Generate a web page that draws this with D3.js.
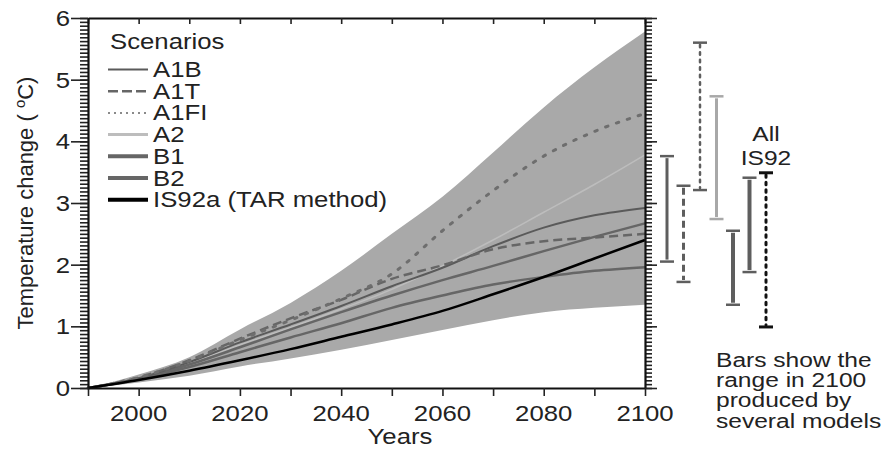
<!DOCTYPE html>
<html><head><meta charset="utf-8">
<script src="https://cdn.jsdelivr.net/npm/d3@7"></script>
<style>
html,body{margin:0;padding:0;background:#fff;}
svg{display:block;font-family:"Liberation Sans",Arial,Helvetica,sans-serif;}
</style></head>
<body>
<svg id="chart" width="895" height="449"></svg>
<script>
// ---------- data ----------
const years     = [1990, 2000, 2010, 2020, 2030, 2040, 2050, 2060, 2070, 2080, 2090, 2100];
const bandUpper = [0, 0.22, 0.50, 0.95, 1.38, 1.90, 2.50, 3.10, 3.82, 4.55, 5.20, 5.78];
const bandLower = [0, 0.09, 0.20, 0.35, 0.48, 0.62, 0.78, 0.94, 1.10, 1.23, 1.30, 1.35];
const a1b  = [0, 0.16, 0.42, 0.74, 1.03, 1.33, 1.65, 1.95, 2.30, 2.60, 2.80, 2.92];
const a1t  = [0, 0.17, 0.45, 0.80, 1.13, 1.43, 1.77, 1.99, 2.25, 2.38, 2.44, 2.50];
const a1fi = [0, 0.17, 0.44, 0.78, 1.10, 1.45, 1.85, 2.55, 3.20, 3.76, 4.16, 4.45];
const a2   = [0, 0.15, 0.40, 0.70, 0.98, 1.28, 1.60, 1.98, 2.40, 2.85, 3.30, 3.78];
const b1   = [0, 0.14, 0.34, 0.58, 0.82, 1.05, 1.30, 1.50, 1.68, 1.80, 1.90, 1.96];
const b2   = [0, 0.15, 0.38, 0.66, 0.95, 1.23, 1.50, 1.75, 1.98, 2.22, 2.45, 2.67];
const is92a= [0, 0.13, 0.28, 0.45, 0.63, 0.83, 1.03, 1.25, 1.52, 1.80, 2.10, 2.40];

const legendNames = ["A1B", "A1T", "A1FI", "A2", "B1", "B2", "IS92a (TAR method)"];

const barNames = ["A1B", "A1T", "A1FI", "A2", "B1", "B2", "IS92"];
const barLow   = [2.05, 1.72, 3.21, 2.74, 1.35, 1.88, 0.99];
const barHigh  = [3.76, 3.28, 5.60, 4.73, 2.55, 3.41, 3.49];

const xTickLabels = [2000, 2020, 2040, 2060, 2080, 2100];
const yTickLabels = [0, 1, 2, 3, 4, 5, 6];
const noteLines = ["Bars show the", "range in 2100", "produced by", "several models"];
const barTitle = ["All", "IS92"];

// ---------- styles ----------
const SX = 1.17; // horizontal stretch of text in the reference
const styles = {
  "A1B":  {color:"#5a5a5a", width:2,   dash:null,   lw:2,   ldash:null},
  "A1T":  {color:"#666",    width:2.5, dash:"9,5",  lw:2.5, ldash:"10,4"},
  "A1FI": {color:"#6e6e6e", width:3,   dash:"2.5,9",lw:2,   ldash:"2,4"},
  "A2":   {color:"#bdbdbd", width:1.5, dash:null,   lw:3,   ldash:null},
  "B1":   {color:"#666",    width:2.5, dash:null,   lw:4,   ldash:null},
  "B2":   {color:"#666",    width:2.5, dash:null,   lw:4,   ldash:null},
  "IS92a (TAR method)": {color:"#000", width:2.5, dash:null, lw:4, ldash:null}
};
const barStyles = {
  "A1B":  {color:"#5e5e5e", width:3,   dash:null},
  "A1T":  {color:"#5e5e5e", width:3,   dash:"7,4"},
  "A1FI": {color:"#5e5e5e", width:2.5, dash:"2.5,5"},
  "A2":   {color:"#a8a8a8", width:3,   dash:null},
  "B1":   {color:"#5e5e5e", width:4,   dash:null},
  "B2":   {color:"#5e5e5e", width:4,   dash:null},
  "IS92": {color:"#111",    width:3,   dash:"2.5,5"}
};

// ---------- scales ----------
const svg = d3.select("#chart");
const x = d3.scaleLinear().domain([1990, 2100]).range([88, 645]);
const y = d3.scaleLinear().domain([0, 6]).range([388, 18]);
const xb = d3.scalePoint().domain(barNames).range([667, 766]);

function stext(g, tx, ty, str, size, anchor, color) {
  return g.append("text")
    .attr("transform", `translate(${tx},${ty}) scale(${SX},1)`)
    .attr("text-anchor", anchor || "start")
    .attr("font-size", size)
    .attr("fill", color || "#222")
    .text(str);
}
function mtext(g, tx, ty, lines, size, anchor, lh) {
  const t = g.append("text")
    .attr("transform", `translate(${tx},${ty}) scale(${SX},1)`)
    .attr("text-anchor", anchor || "start")
    .attr("font-size", size)
    .attr("fill", "#222");
  lines.forEach((s, i) => t.append("tspan").attr("x", 0).attr("y", i * lh).text(s));
  return t;
}

// ---------- band ----------
const bandData = years.map((yr, i) => ({yr, lo: bandLower[i], hi: bandUpper[i]}));
svg.append("path")
  .datum(bandData)
  .attr("fill", "#a9a9a9")
  .attr("d", d3.area().curve(d3.curveMonotoneX)
    .x(d => x(d.yr)).y0(d => y(d.lo)).y1(d => y(d.hi)));

// ---------- scenario lines ----------
const series = [
  ["A2", a2], ["B1", b1], ["B2", b2], ["A1B", a1b], ["A1T", a1t], ["A1FI", a1fi], ["IS92a (TAR method)", is92a]
];
const line = d3.line().curve(d3.curveMonotoneX).x(d => x(d[0])).y(d => y(d[1]));
series.forEach(([name, vals]) => {
  const s = styles[name];
  svg.append("path")
    .datum(years.map((yr, i) => [yr, vals[i]]))
    .attr("fill", "none")
    .attr("stroke", s.color)
    .attr("stroke-width", s.width)
    .attr("stroke-dasharray", s.dash)
    .attr("stroke-linecap", s.dash && s.dash.startsWith("2") ? "round" : "butt")
    .attr("d", line);
});

// ---------- axes ----------
function styleAxis(g, keepDomain) {
  g.selectAll(".tick line").attr("stroke", "#222").attr("stroke-width", 1.6);
  if (keepDomain) g.select(".domain").attr("stroke", "#111").attr("stroke-width", 2.2);
  else g.select(".domain").remove();
}
const decade = d3.range(1990, 2101, 10);
svg.append("g").attr("transform", "translate(0,388)")
  .call(d3.axisBottom(x).tickValues(decade).tickSize(8).tickSizeOuter(0).tickFormat(""))
  .call(g => styleAxis(g, true));
svg.append("g").attr("transform", "translate(0,18)")
  .call(d3.axisBottom(x).tickValues(decade).tickSize(6).tickSizeOuter(0).tickFormat(""))
  .call(g => styleAxis(g, true));
const minorVals = d3.range(0, 97).map(i => i / 16).filter(v => v <= 6);
svg.append("g").attr("transform", "translate(88,0)")
  .call(d3.axisLeft(y).tickValues(minorVals).tickSize(8).tickSizeOuter(0).tickFormat(""))
  .call(g => styleAxis(g, false));
svg.append("g").attr("transform", "translate(88,0)")
  .call(d3.axisLeft(y).tickValues(yTickLabels).tickSize(17).tickSizeOuter(0).tickFormat(""))
  .call(g => styleAxis(g, true));
svg.append("g").attr("transform", "translate(645,0)")
  .call(d3.axisRight(y).tickValues(minorVals).tickSize(7).tickSizeOuter(0).tickFormat(""))
  .call(g => styleAxis(g, false));
svg.append("g").attr("transform", "translate(645,0)")
  .call(d3.axisRight(y).tickValues(yTickLabels).tickSize(12).tickSizeOuter(0).tickFormat(""))
  .call(g => styleAxis(g, true));

// tick labels
xTickLabels.forEach(v => stext(svg, x(v), 421, String(v), 22, "middle"));
yTickLabels.forEach(v => stext(svg, 70, y(v) + 8, String(v), 22, "end"));

// axis titles
stext(svg, 400, 444, "Years", 22, "middle");
const yl = svg.append("text")
  .attr("transform", "translate(33,203) rotate(-90)")
  .attr("text-anchor", "middle")
  .attr("font-size", 22)
  .attr("fill", "#222");
yl.append("tspan").text("Temperature change ( ");
yl.append("tspan").attr("font-size", 15).attr("dy", -8).text("o");
yl.append("tspan").attr("dy", 8).text("C)");

// ---------- legend ----------
const lg = svg.append("g");
stext(lg, 110, 49, "Scenarios", 22, "start");
legendNames.forEach((name, i) => {
  const ly = 69.5 + i * 21.7;
  const s = styles[name];
  lg.append("line")
    .attr("x1", 108).attr("x2", 148).attr("y1", ly).attr("y2", ly)
    .attr("stroke", name === "A1FI" ? "#8a8a8a" : s.color)
    .attr("stroke-width", s.lw)
    .attr("stroke-dasharray", s.ldash);
  stext(lg, 153, ly + 7.5, name, 22, "start");
});

// ---------- range bars ----------
const bg = svg.append("g");
barNames.forEach((name, i) => {
  const s = barStyles[name];
  const bx = xb(name);
  bg.append("line")
    .attr("x1", bx).attr("x2", bx)
    .attr("y1", y(barHigh[i]) + 2).attr("y2", y(barLow[i]) - 2)
    .attr("stroke", s.color).attr("stroke-width", s.width)
    .attr("stroke-dasharray", s.dash)
    .attr("stroke-linecap", s.dash && s.dash.startsWith("2") ? "round" : "butt");
  [barHigh[i], barLow[i]].forEach(v => {
    bg.append("line")
      .attr("x1", bx - 7).attr("x2", bx + 7)
      .attr("y1", y(v)).attr("y2", y(v))
      .attr("stroke", s.color).attr("stroke-width", name === "IS92" ? 3 : 2.5);
  });
});
mtext(bg, xb("IS92"), 141, barTitle, 21, "middle", 24);

// ---------- note ----------
mtext(svg, 716, 366.5, noteLines, 21, "start", 20.5);
</script>
</body></html>
